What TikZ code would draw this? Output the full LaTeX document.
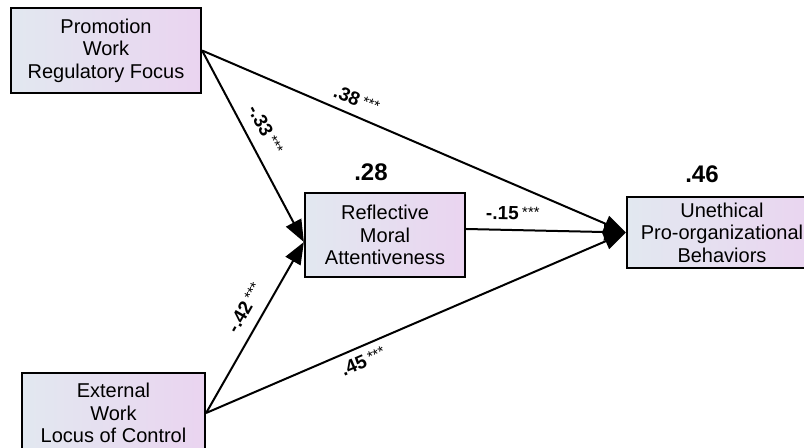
\documentclass[tikz,border=0pt]{standalone}
\usepackage{fontspec}
\setmainfont{Liberation Sans}
\usepackage{xcolor}
\usetikzlibrary{shapes,arrows,arrows.meta}
\definecolor{boxleft}{RGB}{226,232,240}
\definecolor{boxright}{RGB}{234,212,240}
\tikzstyle{varblock} = [rectangle, draw, line width=1.1pt, left color=boxleft, right color=boxright,
    align=center, inner sep=0pt, minimum width=95pt, minimum height=42.5pt, font=\fontsize{10}{11.3}\selectfont]
\tikzstyle{arrow} = [draw, -{Triangle[length=11pt,width=8.5pt]}, line width=1pt]
\tikzstyle{coef} = [sloped, inner sep=0pt, font=\fontsize{9.5}{10}\selectfont]
\tikzstyle{rsquare} = [inner sep=0pt, font=\fontsize{12}{13}\selectfont\bfseries]
\newcommand{\pathcoef}[1]{\textbf{#1}\,\raisebox{1.5pt}{\fontsize{7.5}{8}\selectfont ***}}

\begin{document}
\begin{tikzpicture}[node distance = 2cm, thick]
			\useasboundingbox (0,0) rectangle (402pt,-224pt);
			% Place nodes
			\node [varblock] (promotion) at (53pt,-25.25pt) {Promotion\\Work\\Regulatory Focus};
			\node [varblock, minimum width=91.5pt, minimum height=40pt, below of=promotion, node distance=181.25pt, xshift=3.75pt] (external) {External\\Work\\Locus of Control};
			\node [varblock, minimum width=80pt, minimum height=42pt, right of=promotion, node distance=139.5pt, yshift=-92.25pt] (reflective) {Reflective\\Moral\\Attentiveness};
			\node [varblock, minimum height=35.5pt, right of=reflective, node distance=168.5pt, yshift=1.25pt] (unethical) {Unethical\\Pro-organizational\\Behaviors};
			\node [rsquare, above of=reflective, node distance=31.5pt, xshift=-7pt] (rsqReflective) {.28};
			\node [rsquare, above of=unethical, node distance=29.25pt, xshift=-10pt] (rsqUnethical) {.46};
			
			\path [arrow] (promotion.east) -- node [coef, pos=0.35, above=4pt] {\pathcoef{.38}} (unethical.west);
			\path [arrow] (promotion.east) -- node [coef, pos=0.46, above=5.5pt] {\pathcoef{-.33}} ([yshift=-3.5pt]reflective.west);
			\path [arrow] (external.east) -- node [coef, pos=0.56, above=5.5pt] {\pathcoef{-.42}} ([yshift=-3.5pt]reflective.west);
			\path [arrow] (external.east) -- node [coef, pos=0.36, below=3.5pt] {\pathcoef{.45}} (unethical.west);
			\path [arrow] ([yshift=3pt]reflective.east) -- node [coef, pos=0.29, above=4.5pt] {\pathcoef{-.15}} (unethical.west);
	\end{tikzpicture}
\end{document}
